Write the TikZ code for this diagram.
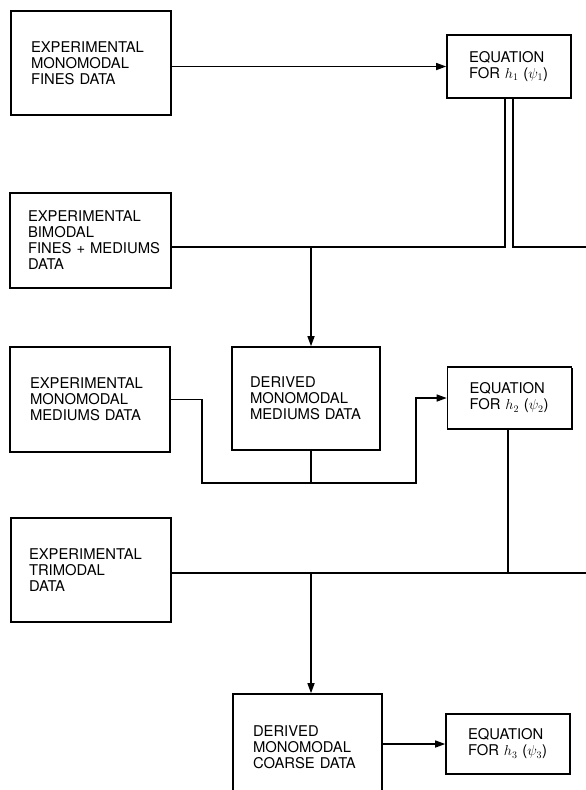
\documentclass[tikz,border=0pt]{standalone}
\usepackage{fontspec}
\setmainfont{TeX Gyre Heros}
\usetikzlibrary{arrows.meta,shadows}
\tikzset{
  box/.style={draw, line width=1.6pt, fill=white, align=left,
    inner xsep=20pt, inner ysep=0pt,
    font=\fontsize{14.8}{16}\selectfont,
    drop shadow={shadow xshift=1pt, shadow yshift=-1pt, opacity=1, fill=black}},
  eqbox/.style={box, inner xsep=22pt, text width=80pt},
  link/.style={line width=1.4pt},
  arr/.style={link, -{Triangle[length=10pt,width=7pt]}},
}
\begin{document}
\begin{tikzpicture}[x=1pt,y=-1pt]
\useasboundingbox (0,0) rectangle (586,790);
\clip (0,0) rectangle (586,790);
\fill[white] (0,0) rectangle (586,790);

% boxes
\node[box, text width=120pt, minimum height=104pt] (A) at (91,63)
  {EXPERIMENTAL\\MONOMODAL\\FINES DATA};
\node[eqbox, minimum height=63pt] (E1) at (509,66.5)
  {EQUATION\\FOR $h_1$~($\psi_1$)};
\node[box, inner xsep=18pt, text width=125pt, minimum height=95pt] (B) at (90.5,240.5)
  {EXPERIMENTAL\\BIMODAL\\\mbox{FINES + MEDIUMS}\\DATA};
\node[box, text width=120pt, minimum height=105pt] (C) at (90,399.5)
  {EXPERIMENTAL\\MONOMODAL\\MEDIUMS DATA};
\node[box, inner xsep=18pt, text width=112pt, minimum height=103pt] (D) at (306,398.5)
  {DERIVED\\MONOMODAL\\MEDIUMS DATA};
\node[eqbox, minimum height=62pt] (E2) at (509.5,398)
  {EQUATION\\FOR $h_2$~($\psi_2$)};
\node[box, inner xsep=18pt, text width=124pt, minimum height=104pt] (T) at (91,570)
  {EXPERIMENTAL\\TRIMODAL\\DATA};
\node[box, text width=109pt, minimum height=106pt] (DC) at (307.5,747)
  {DERIVED\\MONOMODAL\\COARSE DATA};
\node[eqbox, minimum height=60pt] (E3) at (508,744)
  {EQUATION\\FOR $h_3$~($\psi_3$)};

% junction coordinates
\coordinate (j1) at (311,247);
\coordinate (out1) at (586,247);
\coordinate (c1) at (202,483);
\coordinate (c2) at (416,398);
\coordinate (j2) at (311,573);
\coordinate (out2) at (586,573);

% connectors
\draw[arr] (A.east |- E1.west) -- (E1.west);
\draw[link] ([xshift=-4pt]E1.south) |- ([yshift=-6.5pt]B.east);
\draw[link] ([xshift=4pt]E1.south) |- (out1);
\draw[arr] (j1) -- (j1 |- D.north);
\draw[arr] (C.east) -| (c1) -| (c2) -- (E2.west);
\draw[link] ([xshift=5pt]D.south) -- ([xshift=5pt]D.south |- c1);
\draw[link] ([xshift=-1.5pt]E2.south) -- ([xshift=-1.5pt]E2.south |- j2);
\draw[link] ([yshift=-3pt]T.east) -- (out2);
\draw[arr] (j2) -- (j2 |- DC.north);
\draw[arr] (DC.east |- E3.west) -- (E3.west);
\end{tikzpicture}
\end{document}
